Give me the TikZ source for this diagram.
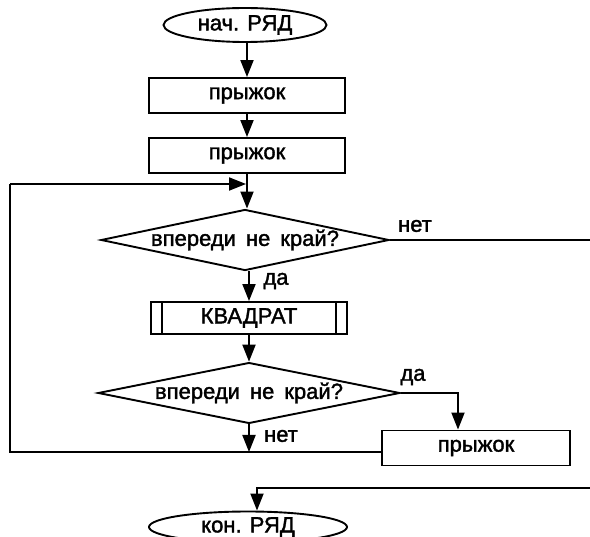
\documentclass[tikz,border=0pt]{standalone}
\usepackage{fontspec}
\setmainfont{Liberation Sans}[FakeBold=1.6]
\usetikzlibrary{shapes.geometric,arrows.meta}
\begin{document}
\begin{tikzpicture}[x=1pt,y=-1pt,line width=1.9pt,
  every node/.style={font=\fontsize{22pt}{26pt}\selectfont},
  term/.style={ellipse,draw,inner sep=0pt,minimum width=163pt,minimum height=34pt},
  proc/.style={rectangle,draw,inner sep=0pt,minimum width=196pt,minimum height=35pt},
  cond/.style={diamond,draw,inner sep=0pt,shape aspect=4.7,minimum width=288pt,minimum height=61pt},
  flow/.style={-{Triangle[length=17pt,width=13pt]}},
  lbl/.style={inner sep=0pt}]
\useasboundingbox (0,0) rectangle (590,537);
% nodes
\node[term] (start) at (245,25) {нач. РЯД};
\node[proc] (p1) at (247,95.5) {прыжок};
\node[proc] (p2) at (247,155.5) {прыжок};
\node[cond] (d1) at (245,240) {впереди\hspace{10pt}не\hspace{10pt}край?};
\node[proc,minimum height=32pt] (kv) at (249,318) {КВАДРАТ};
\draw ([xshift=12pt]kv.north west) -- ([xshift=12pt]kv.south west);
\draw ([xshift=-12pt]kv.north east) -- ([xshift=-12pt]kv.south east);
\node[cond,minimum width=302pt,minimum height=60pt] (d2) at (249,393) {впереди\hspace{10pt}не\hspace{10pt}край?};
\node[proc,minimum width=188pt] (p3) at (476,448) {прыжок};
\node[term,minimum width=198pt,minimum height=31pt] (stop) at (248,527) {кон. РЯД};
% coordinates
\coordinate (lpA) at (10,452);
\coordinate (lpB) at (10,184);
\coordinate (join) at (246,184);
\coordinate (exA) at (591,240);
\coordinate (exB) at (591,488);
% connectors
\draw[flow] (start.south -| p1.north) -- (p1.north);
\draw[flow] (p1) -- (p1.south |- p2.north);
\draw[flow] (p2.south) -- (p2.south |- d1.north);
\draw[flow] (lpB) -- (join);
\draw[flow] (d1.south -| kv.north) -- (kv.north);
\draw[flow] (kv.south) -- (kv.south |- d2.north);
\draw[flow] (d2.south) -- (d2.south |- lpA);
\draw[flow] (d2.east) -| ([xshift=-18pt]p3.north);
\draw ([yshift=-4pt]p3.west) -- (lpA) -- (lpB);
\draw (d1.east) -- (exA);
\draw[flow] (exB) -| ([xshift=9pt]stop.north);
% labels
\node[lbl] (l1) at (415,226) {нет};
\node[lbl] (l2) at (276,281) {да};
\node[lbl] (l3) at (413,377) {да};
\node[lbl] (l4) at (281,436) {нет};
\end{tikzpicture}
\end{document}
